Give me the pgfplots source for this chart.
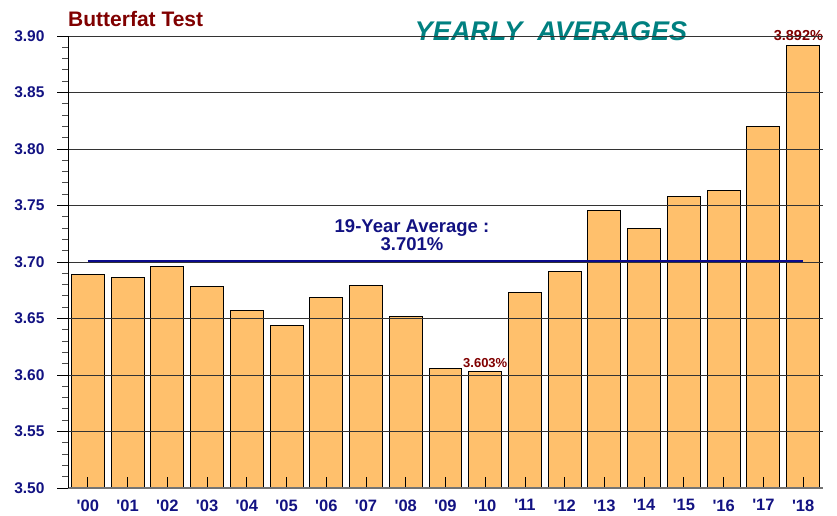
\documentclass[border=0pt]{standalone}
\usepackage{pgfplots}
\pgfplotsset{compat=1.18}
\usepackage{fontspec}
\setmainfont{Liberation Sans}
\definecolor{barfill}{RGB}{255,192,108}
\definecolor{navyc}{RGB}{18,18,130}
\definecolor{avgline}{RGB}{10,10,140}
\definecolor{titlered}{RGB}{128,0,0}
\definecolor{tealc}{RGB}{0,128,128}
\newcommand\q{\textquotesingle}
\begin{document}
\begin{tikzpicture}
\begin{axis}[
  set layers=standard,
  axis on top,
  at={(68pt,28pt)}, anchor=south west,
  width=755pt, height=452pt, scale only axis,
  xmin=-0.5, xmax=18.5, ymin=3.5, ymax=3.9,
  clip=false,
  axis x line*=bottom, axis y line*=left,
  x axis line style={-, black!55, line width=1.2pt},
  y axis line style={-, black, line width=1pt},
  xtick={0,...,18},
  xticklabels={\q00,\q01,\q02,\q03,\q04,\q05,\q06,\q07,\q08,\q09,\q10,\q11,\q12,\q13,\q14,\q15,\q16,\q17,\q18},
  xtick align=inside,
  ytick={3.5,3.55,...,3.91},
  ytick align=outside,
  minor y tick num=4,
  major tick length=11pt,
  minor tick length=6pt,
  tick style={black, line width=0.9pt},
  minor tick style={black!70, line width=0.8pt},
  ymajorgrids,
  grid style={black!80, line width=0.9pt, /pgfplots/on layer=axis background},
  yticklabel style={font=\fontsize{15.5}{17}\selectfont\bfseries, text=navyc, xshift=-9pt},
  xticklabel style={font=\fontsize{16.5}{18}\selectfont\bfseries, text=navyc, yshift=-8pt},
  /pgf/number format/.cd, fixed, fixed zerofill, precision=2, assume math mode=true,
]
\addplot[ybar, bar width=0.83, fill=barfill, draw=black, line width=1pt] coordinates {
(0,3.689) (1,3.686) (2,3.696) (3,3.678) (4,3.657) (5,3.644) (6,3.669) (7,3.679) (8,3.652) (9,3.606)
(10,3.603) (11,3.673) (12,3.692) (13,3.746) (14,3.730) (15,3.758) (16,3.763) (17,3.820) (18,3.892)
};
\addplot[avgline, line width=2.5pt] coordinates {(0,3.701) (18,3.701)};
\node[anchor=south, yshift=3pt, inner ysep=1pt, inner xsep=8pt, fill=white, text=titlered, font=\fontsize{14.5}{15}\selectfont\bfseries] at (axis cs:17.88,3.892) {3.892\%};
\node[anchor=south, yshift=3pt, inner ysep=1pt, text=titlered, font=\fontsize{13}{14}\selectfont\bfseries] at (axis cs:10,3.603) {3.603\%};
\node[fill=white, inner xsep=27pt, inner ysep=2pt, text=tealc, font=\fontsize{27}{30}\selectfont\bfseries\itshape] at (axis cs:11.655,3.904) {YEARLY\ \ AVERAGES};
\end{axis}
\node[anchor=base west, inner sep=0pt, text=titlered, font=\fontsize{21}{24}\selectfont\bfseries] at (68pt,489.5pt) {Butterfat Test};
\node[align=center, text=navyc, font=\fontsize{18.5}{18.5}\selectfont\bfseries] at (412pt,281pt) {19-Year Average :\\3.701\%};
\useasboundingbox (0,0) rectangle (837pt,516pt);
\end{tikzpicture}
\end{document}
